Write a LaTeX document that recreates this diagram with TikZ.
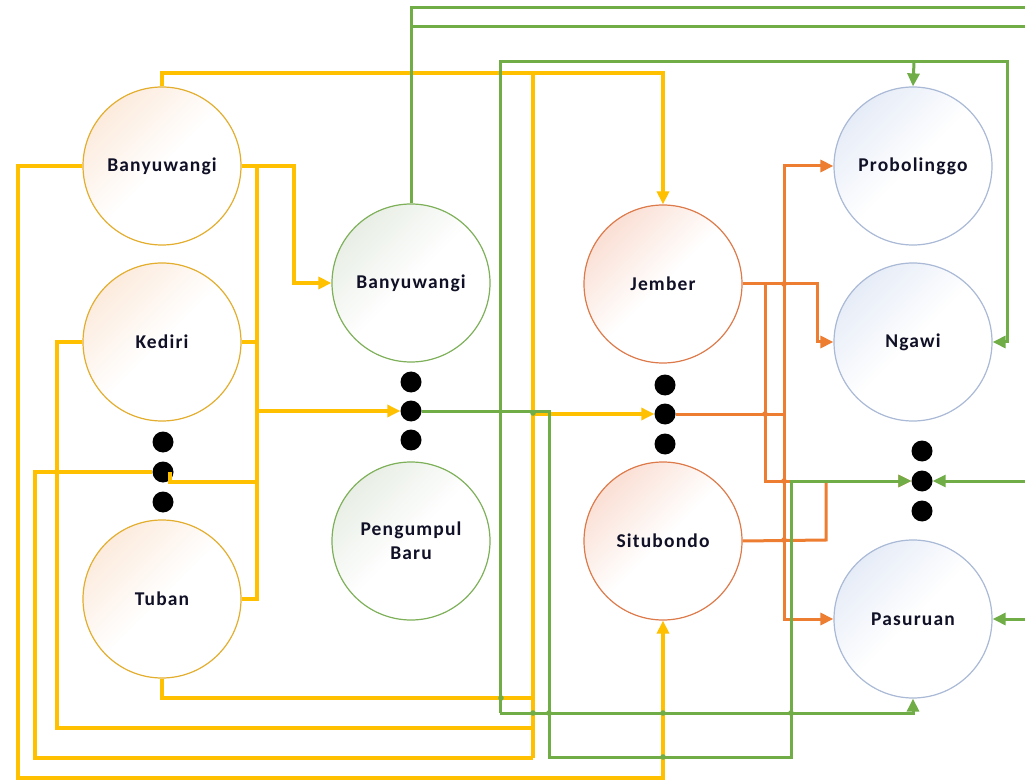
\documentclass[tikz,border=0pt]{standalone}
\usepackage{fontspec}
\newfontfamily\labelfont{Carlito}[LetterSpace=6]
\usetikzlibrary{arrows.meta}
\definecolor{yline}{HTML}{FFC000}
\definecolor{gline}{HTML}{70AD47}
\definecolor{oline}{HTML}{ED7D31}
\definecolor{ycirc}{HTML}{E3AE2E}
\definecolor{gcirc}{HTML}{7DB058}
\definecolor{ocirc}{HTML}{DD7A4A}
\definecolor{bcirc}{HTML}{A9B9D6}
\definecolor{yfill}{HTML}{FCEBDD}
\definecolor{gfill}{HTML}{E8EEE5}
\definecolor{ofill}{HTML}{FADFD4}
\definecolor{bfill}{HTML}{E6ECF7}
\definecolor{txt}{HTML}{101026}
\begin{document}
\begin{tikzpicture}[x=1pt,y=-1pt,
  city/.style={circle, minimum size=158pt, inner sep=0pt, line width=1.2pt,
    font=\labelfont\bfseries\fontsize{19.5}{24}\selectfont, text=txt,
    align=center},
  tint/.style={top color=#1, bottom color=white, middle color=white, shading angle=45},
  ycity/.style={city, draw=ycirc, tint=yfill},
  gcity/.style={city, draw=gcirc, tint=gfill},
  ocity/.style={city, draw=ocirc, tint=ofill},
  bcity/.style={city, draw=bcirc, tint=bfill},
  blackdot/.style={circle, fill=black, minimum size=21pt, inner sep=0pt},
  ywire/.style={draw=yline, line width=3.2pt},
  gwire/.style={draw=gline, line width=3pt},
  owire/.style={draw=oline, line width=3pt},
  tip/.style={-{Triangle[length=13pt,width=12pt]}},
]
\clip (0,0) rectangle (1025,783);
\fill[white] (0,0) rectangle (1025,783);

% origin cities
\node[ycity] (BY) at (162,166) {Banyuwangi};
\node[ycity] (KD) at (162,342) {Kediri};
\node[ycity] (TB) at (162,599) {Tuban};
\node[blackdot] (LD1) at (163,442) {};
\node[blackdot] (LD2) at (163,472) {};
\node[blackdot] (LD3) at (163,502) {};

% collection points
\node[gcity] (BG) at (411,283) {Banyuwangi};
\node[blackdot] (GD1) at (411,382) {};
\node[blackdot] (GD2) at (411,411) {};
\node[blackdot] (GD3) at (411,440) {};
\node[gcity] (PB) at (411,541) {Pengumpul\\Baru};

% intermediate cities
\node[ocity] (JB) at (663,284) {Jember};
\node[blackdot] (OD1) at (665,385) {};
\node[blackdot] (OD2) at (665,414) {};
\node[blackdot] (OD3) at (665,444) {};
\node[ocity] (SB) at (663,541) {Situbondo};

% destination cities
\node[bcity] (PR) at (913,166) {Probolinggo};
\node[bcity] (NG) at (913,342) {Ngawi};
\node[blackdot] (RD1) at (922,451) {};
\node[blackdot] (RD2) at (922,481) {};
\node[blackdot] (RD3) at (922,511) {};
\node[bcity] (PS) at (913,619) {Pasuruan};

% ---- yellow links ----
\draw[ywire, tip] (BY.north) -- (162,73) -| (JB.north);
\draw[ywire, tip] (BY.east) -- (294,166) |- (BG.west);
\draw[ywire] (BY.east) -- (257,166) -- (257,599) -- (TB.east);
\draw[ywire] (KD.east) -- (257,342);
\draw[ywire] (LD2.center) ++(7,0) -- ++(0,10) -- (257,482);
\draw[ywire, tip] (257,411) -- (GD2.west);
\draw[ywire, tip] (BY.west) -- (18,166) -- (18,778) -| (SB.south);
\draw[ywire] (KD.west) -- (57,342) -- (57,728) -- (533,728);
\draw[ywire] (LD2.west) -- (35,472) -- (35,758) -- (533,758);
\draw[ywire] (TB.south) -- (162,698) -- (533,698);
\draw[ywire] (533,73) -- (533,758);
\draw[ywire, tip] (533,414) -- (OD2.west);
\fill[yline] (57,472) circle (2.8pt);

% ---- orange links ----
\draw[owire, tip] (JB.east) -- (817,284) |- (NG.west);
\draw[owire, tip] (784,284) |- (PR.west);
\draw[owire, tip] (784,284) |- (PS.west);
\draw[owire, tip] (765,284) -- (765,481) -- (RD2.west);
\draw[owire] (OD2.east) -- (784,414);
\draw[owire] (SB.east) -- (826,540) -- (826,481);
\foreach \p in {(784,284),(765,414),(784,481),(784,540)}
  \fill[oline] \p circle (2.8pt);

% ---- green links ----
\draw[gwire] (BG.north) -- (411,8) -- (1030,8);
\draw[gwire] (411,27) -- (1030,27);
\draw[gwire, tip] (GD2.east) -- (549,411) -- (549,757) -- (791,757) -- (791,481) -- (RD2.west);
\draw[gwire, tip] (500,713) -- (500,62) -- (1007,62) -- (1007,342) -- (NG.east);
\draw[gwire, tip] (914,62) -- (PR.north);
\draw[gwire, tip] (500,713) -| (PS.south);
\draw[gwire, tip] (1030,481) -- (RD2.east);
\draw[gwire, tip] (1030,619) -- (PS.east);
\foreach \p in {(533,413),(501,698),(533,713),(549,713),(663,713),(791,713),(663,757)}
  \fill[gline] \p circle (2.8pt);
\end{tikzpicture}
\end{document}
